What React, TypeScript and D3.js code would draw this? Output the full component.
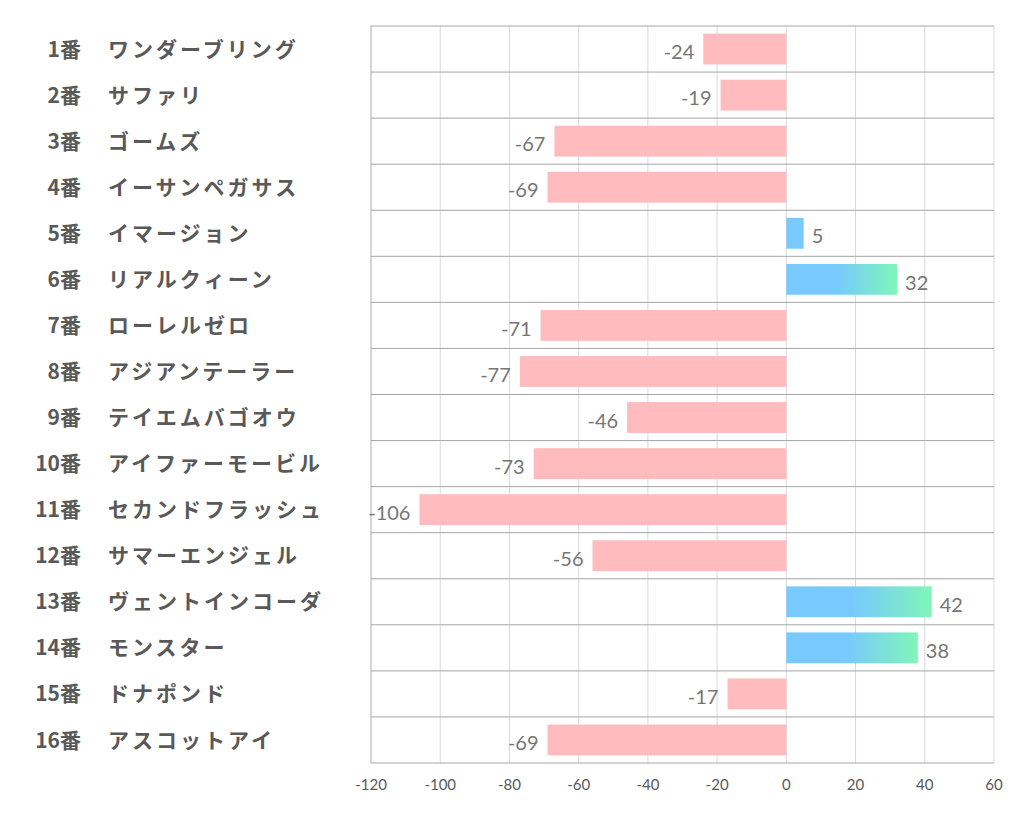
import React from "react";
import * as d3 from "d3";

const numbers = ["1番","2番","3番","4番","5番","6番","7番","8番","9番","10番","11番","12番","13番","14番","15番","16番"];
const names = ["ワンダーブリング","サファリ","ゴームズ","イーサンペガサス","イマージョン","リアルクィーン","ローレルゼロ","アジアンテーラー","テイエムバゴオウ","アイファーモービル","セカンドフラッシュ","サマーエンジェル","ヴェントインコーダ","モンスター","ドナポンド","アスコットアイ"];
const values = [-24,-19,-67,-69,5,32,-71,-77,-46,-73,-106,-56,42,38,-17,-69];
const xTicks = [-120,-100,-80,-60,-40,-20,0,20,40,60];

const W = 1021, H = 834;
const left = 371, right = 994, top = 26, bottom = 763;

export default function App() {
  const x = d3.scaleLinear().domain([-120, 60]).range([left, right]);
  const idx = numbers.map((_, i) => String(i));
  const y = d3.scaleBand().domain(idx).range([top, bottom]).paddingInner(0.33).paddingOuter(0.165);
  const rowH = (bottom - top) / numbers.length;
  const jp = "'Noto Sans CJK JP', 'Noto Sans', sans-serif";
  const num = "Lato, 'Open Sans', sans-serif";
  return (
    <svg width={W} height={H} style={{ position: "absolute", left: 0, top: 0, background: "#fff" }}>
      <defs>
        {values.map((v, i) => {
          if (v <= 0) return null;
          const gs = Math.max(0.45 * v, 14);
          const ge = Math.max(v, gs + 10);
          return (
            <linearGradient key={"gr" + i} id={"pos" + i} gradientUnits="userSpaceOnUse" x1={x(gs)} x2={x(ge)} y1={0} y2={0}>
              <stop offset="0" stopColor="#78c9fd" />
              <stop offset="1" stopColor="#7ff6b8" />
            </linearGradient>
          );
        })}
      </defs>
      {xTicks.map(t => (
        <line key={"g" + t} x1={x(t)} x2={x(t)} y1={top} y2={bottom} stroke="#d9d9d9" strokeWidth={1} />
      ))}
      <line x1={left} x2={left} y1={top} y2={bottom} stroke="#bfbfbf" strokeWidth={1} />
      {d3.range(numbers.length + 1).map(i => (
        <line key={"h" + i} x1={left} x2={right} y1={top + i * rowH} y2={top + i * rowH} stroke="#a6a6a6" strokeWidth={1} />
      ))}
      {values.map((v, i) => {
        const x0 = x(Math.min(0, v)), x1 = x(Math.max(0, v));
        const yy = y(String(i))!;
        const bh = y.bandwidth();
        return (
          <g key={"b" + i}>
            <rect x={x0} y={yy} width={x1 - x0} height={bh} fill={v < 0 ? "#ffbbbd" : `url(#pos${i})`} />
            <text x={v < 0 ? x0 - 9 : x1 + 8} y={yy + bh / 2 + 3} dy="0.36em" textAnchor={v < 0 ? "end" : "start"}
              fontFamily={num} fontSize={20} fill="#767676">{v}</text>
          </g>
        );
      })}
      {numbers.map((n, i) => {
        const cy = top + (i + 0.5) * rowH;
        return (
          <g key={"l" + i} fontFamily={jp} fontWeight="bold" fontSize={21} fill="#595959">
            <text x={81} y={cy} dy="0.36em" textAnchor="end">{n}</text>
            <text x={108} y={cy} dy="0.36em" letterSpacing={3}>{names[i]}</text>
          </g>
        );
      })}
      {xTicks.map(t => (
        <text key={"t" + t} x={x(t)} y={785} dy="0.36em" textAnchor="middle" fontFamily={num} fontSize={15} fill="#595959">{t}</text>
      ))}
    </svg>
  );
}
